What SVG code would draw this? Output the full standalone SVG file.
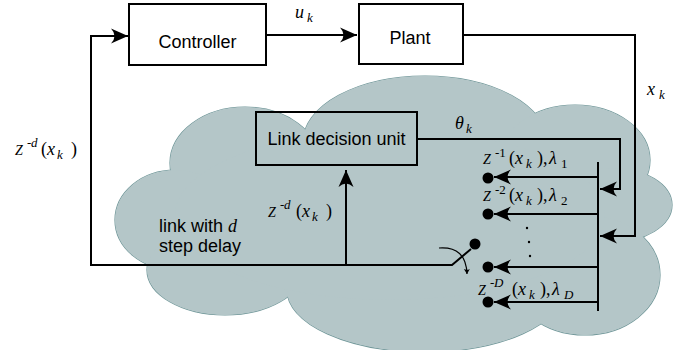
<svg xmlns="http://www.w3.org/2000/svg" width="699" height="350" viewBox="0 0 699 350">
<style>
.box{fill:none;stroke:#000;stroke-width:2}
.lbl{font-family:"Liberation Sans",Arial,sans-serif;font-size:18px;fill:#000}
.m{font-family:"Liberation Serif","Times New Roman",serif;font-style:italic;font-size:18px;fill:#000}
.r{font-style:normal}
.s{font-size:13px}
.z{font-size:14px}
.ln{fill:none;stroke:#000;stroke-width:2}
.cl{fill:#b4c6c8}
.cs{fill:none;stroke:#6f9698;stroke-width:1.2}
</style>
<defs>
<marker id="ah" viewBox="-19 -9 21 18" refX="0" refY="0" markerWidth="21" markerHeight="18" orient="auto" markerUnits="userSpaceOnUse">
<path d="M0,0 L-17,-7.5 Q-10,0 -17,7.5 Z" fill="#000"/>
</marker>
<marker id="sa" viewBox="-6 -4 7 8" refX="0" refY="0" markerWidth="7" markerHeight="8" orient="auto" markerUnits="userSpaceOnUse">
<path d="M0,0 L-5,-3 Q-3.5,0 -5,3 Z" fill="#000"/>
</marker>
<g id="cloudshape">
<ellipse cx="245" cy="163" rx="75" ry="56"/>
<ellipse cx="175" cy="220" rx="60" ry="50"/>
<ellipse cx="225" cy="270" rx="78" ry="45"/>
<ellipse cx="425" cy="142" rx="122" ry="66"/>
<ellipse cx="425" cy="290" rx="138" ry="62"/>
<ellipse cx="575" cy="160" rx="75" ry="55"/>
<ellipse cx="612" cy="205" rx="60" ry="37"/>
<ellipse cx="585" cy="275" rx="75" ry="60"/>
</g>
</defs>
<g id="cloud">
<use href="#cloudshape" class="cs"/>
<use href="#cloudshape" class="cl"/>
<ellipse cx="390" cy="215" rx="215" ry="85" class="cl"/>
</g>
<g id="controller">
<rect x="129" y="4" width="137" height="61" class="box"/>
<text x="197.5" y="48" text-anchor="middle" class="lbl">Controller</text>
</g>
<g id="plant">
<rect x="359" y="4" width="104" height="60" class="box"/>
<text x="410" y="44" text-anchor="middle" class="lbl">Plant</text>
</g>
<g id="ldu">
<rect x="256" y="112" width="161" height="53" class="box"/>
<text x="336.5" y="145" text-anchor="middle" class="lbl">Link decision unit</text>
</g>
<g id="connectors">
<path d="M266,35 L357,35" class="ln" marker-end="url(#ah)"/>
<path d="M471,249 L452,265 L91,265 L91,36 L128,36" class="ln" marker-end="url(#ah)"/>
<path d="M463,35 L635,35 L635,236 L600,236" class="ln" marker-end="url(#ah)"/>
<path d="M417,139 L620,139 L620,189 L600,189" class="ln" marker-end="url(#ah)"/>
<path d="M346,266 L346,170" class="ln" marker-end="url(#ah)"/>
<path d="M598,162 L598,311" class="ln"/>
<path d="M598,177 L494,177" class="ln" marker-end="url(#ah)"/>
<path d="M598,214 L494,214" class="ln" marker-end="url(#ah)"/>
<path d="M598,267 L494,267" class="ln" marker-end="url(#ah)"/>
<path d="M598,302 L494,302" class="ln" marker-end="url(#ah)"/>
<path d="M439,248 Q466,246 467,274" fill="none" stroke="#000" stroke-width="1.2" marker-end="url(#sa)"/>
</g>
<g id="dots">
<circle cx="488" cy="178" r="5.5"/>
<circle cx="488" cy="214" r="5.5"/>
<circle cx="488" cy="267" r="5.5"/>
<circle cx="488" cy="302" r="5.5"/>
<circle cx="475" cy="244" r="5.5"/>
<circle cx="527" cy="228" r="1.2"/>
<circle cx="529" cy="242" r="1.2"/>
<circle cx="530" cy="256" r="1.2"/>
</g>
<g id="labels">
<text class="m"><tspan x="295" y="18">u</tspan><tspan x="307" y="22" class="s">k</tspan></text>
<text class="m"><tspan x="647" y="95">x</tspan><tspan x="659" y="99" class="s">k</tspan></text>
<text class="m"><tspan x="455" y="129">θ</tspan><tspan x="466" y="133" class="s">k</tspan></text>

<text class="m"><tspan x="15" y="155" class="z">Z</tspan><tspan x="27" y="147" class="s r">-</tspan><tspan x="31" y="147" class="s">d</tspan><tspan x="41" y="155" class="r">(</tspan><tspan x="47" y="155">x</tspan><tspan x="57" y="159" class="s">k</tspan><tspan x="71" y="155" class="r">)</tspan></text>

<text class="m"><tspan x="268" y="217" class="z">Z</tspan><tspan x="280" y="209" class="s r">-</tspan><tspan x="284" y="209" class="s">d</tspan><tspan x="296" y="217" class="r">(</tspan><tspan x="302" y="217">x</tspan><tspan x="312" y="221" class="s">k</tspan><tspan x="326" y="217" class="r">)</tspan></text>

<text class="m"><tspan x="483" y="164" class="z">Z</tspan><tspan x="495" y="157" class="s r">-1</tspan><tspan x="509" y="164" class="r">(</tspan><tspan x="515" y="164">x</tspan><tspan x="526" y="168" class="s">k</tspan><tspan x="537" y="164" class="r">),</tspan><tspan x="549" y="164">λ</tspan><tspan x="561" y="168" class="s r">1</tspan></text>

<text class="m"><tspan x="483" y="201" class="z">Z</tspan><tspan x="495" y="194" class="s r">-2</tspan><tspan x="509" y="201" class="r">(</tspan><tspan x="515" y="201">x</tspan><tspan x="526" y="205" class="s">k</tspan><tspan x="537" y="201" class="r">),</tspan><tspan x="549" y="201">λ</tspan><tspan x="561" y="205" class="s r">2</tspan></text>

<text class="m"><tspan x="478" y="295" class="z">Z</tspan><tspan x="490" y="287" class="s r">-</tspan><tspan x="494" y="287" class="s">D</tspan><tspan x="512" y="295" class="r">(</tspan><tspan x="518" y="295">x</tspan><tspan x="529" y="299" class="s">k</tspan><tspan x="540" y="295" class="r">),</tspan><tspan x="552" y="295">λ</tspan><tspan x="564" y="299" class="s">D</tspan></text>

<text x="159" y="232" class="lbl">link with <tspan class="m" font-size="20">d</tspan></text>
<text x="159" y="252" class="lbl">step delay</text>
</g>
</svg>
